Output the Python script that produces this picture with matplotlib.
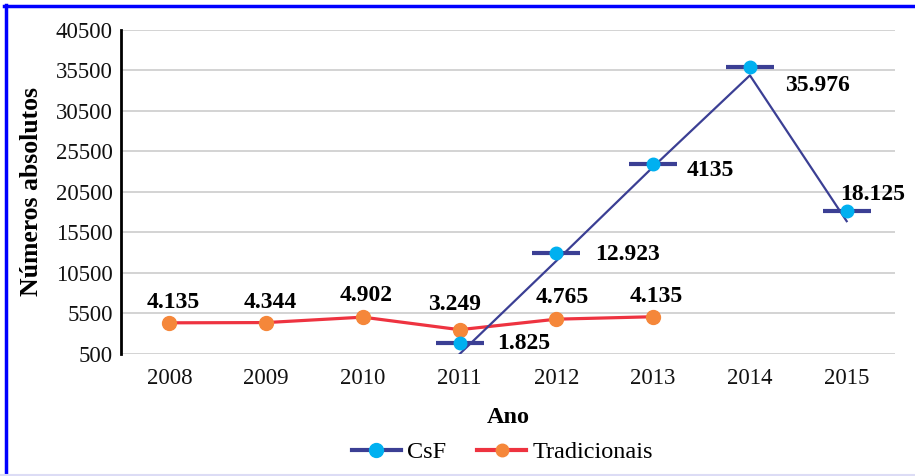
import matplotlib.pyplot as plt
from matplotlib.lines import Line2D
import numpy as np

plt.rcParams['font.family'] = ['Liberation Serif', 'DejaVu Serif']

anos = ['2008', '2009', '2010', '2011', '2012', '2013', '2014', '2015']

# Tradicionais (2008-2013)
trad_valores = [4350, 4380, 5050, 3500, 4800, 5100]
trad_rotulos = ['4.135', '4.344', '4.902', '3.249', '4.765', '4.135']

# CsF (2011-2015): pontos e linha desenhados separadamente no original
csf_valores = [1825, 12923, 23900, 35976, 18125]
csf_linha = [500, 12000, 23600, 34900, 16900]
csf_rotulos = ['1.825', '12.923', '4135', '35.976', '18.125']

yticks = list(range(500, 40501, 5000))

navy = '#3b3f94'
ciano = '#00b0f0'
vermelho = '#ee3340'
laranja = '#f5873a'

x = np.arange(len(anos))
x_trad = x[:len(trad_valores)]
x_csf = x[3:3 + len(csf_valores)]

fig = plt.figure(figsize=(9.15, 4.76), dpi=100)
ax = fig.add_axes([0.1322, 0.2563, 0.846, 0.6807])

ax.plot(x_trad, trad_valores, color=vermelho, lw=2.3, zorder=3)
ax.plot(x_trad, trad_valores, 'o', color=laranja, ms=10, zorder=4)

ax.plot(x_csf, csf_linha, color=navy, lw=1.6, zorder=5)
ax.plot(x_csf, csf_valores, '_', color=navy, ms=34, mew=3, zorder=6)
ax.plot(x_csf, csf_valores, 'o', color=ciano, ms=9, zorder=7)

trad_desloc = [(4, 20), (4, 20), (3, 22), (-5, 25), (6, 22), (3, 20)]
for xi, v, r, d in zip(x_trad, trad_valores, trad_rotulos, trad_desloc):
    ax.annotate(r, (xi, v), xytext=d, textcoords='offset pixels',
                ha='center', va='center', fontsize=17, fontweight='bold')

csf_desloc = [(37, 0), (39, -1), (33, -6), (35, -19), (-7, 17)]
for xi, v, r, d in zip(x_csf, csf_valores, csf_rotulos, csf_desloc):
    ax.annotate(r, (xi, v), xytext=d, textcoords='offset pixels',
                ha='left', va='center', fontsize=17, fontweight='bold')

ax.set_xlim(-0.5, len(anos) - 0.5)
ax.set_ylim(500, 40500)
ax.set_yticks(yticks)
ax.set_xticks(x, anos)
ax.tick_params(length=0, labelsize=16.5, colors='#111111')
ax.tick_params(axis='y', pad=6)
ax.tick_params(axis='x', pad=10)
ax.grid(axis='y', color='#cccccc', lw=1.2)
ax.set_axisbelow(True)
for s in ['top', 'right', 'bottom']:
    ax.spines[s].set_visible(False)
ax.spines['left'].set_linewidth(2)
ax.spines['left'].set_color('black')

ax.set_xlabel('Ano', fontsize=17.5, fontweight='bold', labelpad=13)
ax.set_ylabel('Números absolutos', fontsize=18.5, fontweight='bold')
ax.yaxis.set_label_coords(-0.101, 0.5)

handles = [
    Line2D([], [], color=navy, lw=3, marker='o', mfc=ciano, mec=ciano, ms=10),
    Line2D([], [], color=vermelho, lw=3, marker='o', mfc=laranja, mec=laranja, ms=9),
]
fig.legend(handles, ['CsF', 'Tradicionais'], loc='center', bbox_to_anchor=(0.549, 0.05),
           ncol=2, frameon=False, fontsize=17.5, handlelength=2.0, handletextpad=0.25,
           columnspacing=1.3)

# moldura
fig.add_artist(Line2D([5.5 / 915, 5.5 / 915], [0, 1 - 5 / 476], color='#0000ff', lw=2.5,
                      transform=fig.transFigure))
fig.add_artist(Line2D([4 / 915, 1], [1 - 6 / 476, 1 - 6 / 476], color='#0000ff', lw=2.5,
                      transform=fig.transFigure))
fig.add_artist(Line2D([0, 1], [1 / 476, 1 / 476], color='#dcdcf5', lw=1.5,
                      transform=fig.transFigure))

fig.savefig('out.png', dpi=100)
